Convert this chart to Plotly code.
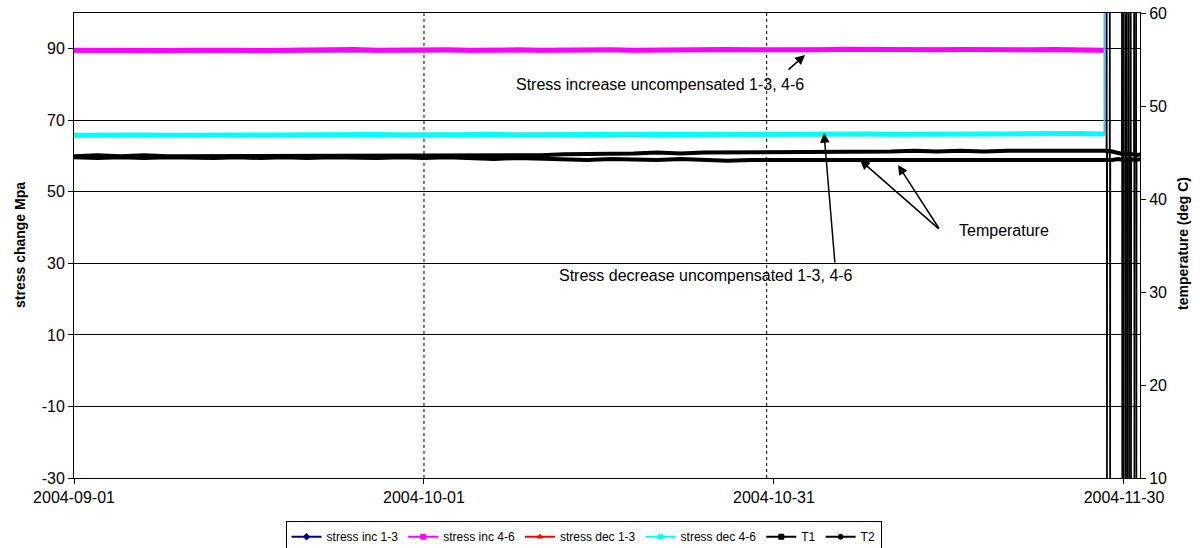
import plotly.graph_objects as go

# ---------------- data ----------------
dates = ["2004-09-01","2004-09-03","2004-09-05","2004-09-07","2004-09-09","2004-09-11","2004-09-13","2004-09-15",
         "2004-09-17","2004-09-19","2004-09-21","2004-09-23","2004-09-25","2004-09-27","2004-09-29",
         "2004-10-01","2004-10-03","2004-10-05","2004-10-07","2004-10-09","2004-10-11","2004-10-13","2004-10-15",
         "2004-10-17","2004-10-19","2004-10-21","2004-10-23","2004-10-25","2004-10-27","2004-10-29","2004-10-31",
         "2004-11-02","2004-11-04","2004-11-06","2004-11-08","2004-11-10","2004-11-12","2004-11-14","2004-11-16",
         "2004-11-18","2004-11-20","2004-11-22","2004-11-24","2004-11-26","2004-11-28 08:00"]

stress_inc_13 = [89.5,89.5,89.6,89.5,89.5,89.6,89.6,89.5,89.5,89.6,89.6,89.5,89.7,89.6,89.6,
                 89.5,89.6,89.6,89.7,89.6,89.6,89.6,89.7,89.6,89.6,89.6,89.7,89.7,89.7,89.6,89.6,
                 89.7,89.7,89.8,89.7,89.7,89.7,89.7,89.7,89.7,89.7,89.7,89.7,89.6,89.6]
stress_inc_46 = [89.6,89.5,89.7,89.6,89.5,89.6,89.7,89.6,89.5,89.6,89.7,89.6,89.8,89.6,89.7,
                 89.6,89.7,89.6,89.8,89.7,89.6,89.7,89.8,89.7,89.6,89.7,89.8,89.7,89.8,89.7,89.6,
                 89.8,89.7,89.9,89.8,89.7,89.8,89.7,89.8,89.7,89.8,89.7,89.8,89.7,89.6]
stress_dec_13 = [65.8,65.8,65.8,65.8,65.8,65.8,65.9,65.8,65.8,65.9,65.9,65.9,65.9,65.9,65.9,
                 65.9,65.9,66.0,65.9,65.9,66.0,66.0,66.0,66.0,66.0,66.0,66.0,66.1,66.0,66.1,66.1,
                 66.1,66.1,66.1,66.2,66.1,66.1,66.2,66.2,66.2,66.2,66.2,66.2,66.2,66.2]
stress_dec_46 = [65.8,65.9,65.8,65.9,65.8,65.9,65.9,65.8,65.9,65.9,66.0,65.9,65.9,66.0,65.9,
                 66.0,65.9,66.0,66.0,65.9,66.0,66.1,66.0,66.0,66.1,66.0,66.1,66.1,66.0,66.1,66.1,
                 66.2,66.1,66.2,66.2,66.1,66.2,66.2,66.3,66.2,66.2,66.3,66.2,66.3,66.2]

t_extra_dates = ["2004-11-29 00:00","2004-11-29 12:00","2004-11-30 00:00","2004-11-30 12:00",
                 "2004-12-01 00:00","2004-12-01 12:00"]
t1 = [44.6,44.7,44.6,44.7,44.6,44.6,44.7,44.6,44.7,44.6,44.7,44.6,44.7,44.7,44.6,
      44.7,44.6,44.7,44.7,44.6,44.7,44.8,44.8,44.9,44.9,45.0,44.9,45.0,45.0,45.0,45.1,
      45.0,45.1,45.1,45.0,45.1,45.2,45.1,45.2,45.1,45.2,45.2,45.3,45.2,45.2,
      45.1,44.9,44.8,44.9,44.7,44.8]
t2 = [44.5,44.4,44.5,44.4,44.5,44.4,44.4,44.5,44.4,44.5,44.4,44.5,44.4,44.4,44.5,
      44.4,44.5,44.4,44.3,44.4,44.3,44.3,44.2,44.3,44.2,44.2,44.3,44.2,44.1,44.2,44.2,
      44.1,44.2,44.1,44.2,44.1,44.2,44.1,44.2,44.1,44.1,44.2,44.1,44.2,44.1,
      44.2,44.3,44.2,44.3,44.2,44.3]

# end-of-record glitches
dec46_jump_dates = ["2004-11-28 08:00","2004-11-28 08:00"]
dec46_jump = [66.2, 130]
late_seg_dates = ["2004-11-30 03:00","2004-11-30 06:00"]
inc46_late = [89.6, 89.6]
dec46_late = [66.1, 66.1]

t1_spike_dates = ["2004-11-28 12:00","2004-11-28 12:30","2004-11-28 13:00","2004-11-28 13:30",
                  "2004-11-29 19:30","2004-11-29 20:00","2004-11-29 20:30","2004-11-29 21:00",
                  "2004-11-30 02:30","2004-11-30 03:00","2004-11-30 03:30","2004-11-30 04:00",
                  "2004-11-30 09:30","2004-11-30 10:00","2004-11-30 10:30","2004-11-30 11:00",
                  "2004-11-30 20:30","2004-11-30 21:00","2004-11-30 21:30","2004-11-30 22:00"]
t1_spike = [45.2,75,-10,45.0, 45.0,75,-10,44.9, 44.9,75,-10,44.8, 44.8,75,-10,44.8, 44.8,75,-10,44.8]
t2_spike_dates = ["2004-11-28 18:30","2004-11-28 19:00","2004-11-28 19:30","2004-11-28 20:00",
                  "2004-11-29 22:30","2004-11-29 23:00","2004-11-29 23:30","2004-11-30 00:00",
                  "2004-11-30 05:30","2004-11-30 06:00","2004-11-30 06:30","2004-11-30 07:00",
                  "2004-11-30 13:30","2004-11-30 14:00","2004-11-30 14:30","2004-11-30 15:00",
                  "2004-12-01 00:30","2004-12-01 01:00","2004-12-01 01:30","2004-12-01 02:00"]
t2_spike = [44.2,75,-10,44.3, 44.3,75,-10,44.2, 44.2,75,-10,44.3, 44.3,75,-10,44.2, 44.2,75,-10,44.3]

x_ticks = ["2004-09-01","2004-10-01","2004-10-31","2004-11-30"]
y_ticks = [-30,-10,10,30,50,70,90]
y_tick_text = ["-30","-10","10","30","50","70","90"]
y2_ticks = [10,20,30,40,50,60]
event_lines = ["2004-10-01","2004-10-30 09:00"]

series_names = ["stress inc 1-3","stress inc 4-6","stress dec 1-3","stress dec 4-6","T1","T2"]
series_colors = ["#000080","#FF00FF","#FF0000","#00FFFF","#000000","#000000"]
series_symbols = ["diamond","square","triangle-up","x","square","circle"]

# ---------------- figure ----------------
W, H = 1200, 548
L, R, T, B = 74, 1140, 13, 478
FONT = "Liberation Sans, Arial, sans-serif"

def px(xp):
    return (xp - L) / (R - L)

def py(yp):
    return (B - yp) / (B - T)

fig = go.Figure()

fig.add_trace(go.Scatter(x=dates, y=stress_inc_13, mode="lines", line=dict(color=series_colors[0], width=4),
                         showlegend=False))
fig.add_trace(go.Scatter(x=dates, y=stress_inc_46, mode="lines", line=dict(color=series_colors[1], width=5),
                         showlegend=False))
fig.add_trace(go.Scatter(x=late_seg_dates, y=inc46_late, mode="lines", line=dict(color=series_colors[1], width=5),
                         showlegend=False))
fig.add_trace(go.Scatter(x=dates, y=stress_dec_13, mode="lines", line=dict(color=series_colors[2], width=4),
                         showlegend=False))
fig.add_trace(go.Scatter(x=dates, y=stress_dec_46, mode="lines", line=dict(color=series_colors[3], width=5),
                         showlegend=False))
fig.add_trace(go.Scatter(x=late_seg_dates, y=dec46_late, mode="lines", line=dict(color=series_colors[3], width=5),
                         showlegend=False))
fig.add_trace(go.Scatter(x=dec46_jump_dates, y=dec46_jump, mode="lines", line=dict(color="#3CC8F0", width=2),
                         showlegend=False))

fig.add_trace(go.Scatter(x=dates + t_extra_dates, y=t1, mode="lines", line=dict(color="#000000", width=4),
                         yaxis="y2", showlegend=False))
fig.add_trace(go.Scatter(x=dates + t_extra_dates, y=t2, mode="lines", line=dict(color="#000000", width=4),
                         yaxis="y2", showlegend=False))
fig.add_trace(go.Scatter(x=t1_spike_dates, y=t1_spike, mode="lines", line=dict(color="#000000", width=1.6),
                         yaxis="y2", showlegend=False))
fig.add_trace(go.Scatter(x=t2_spike_dates, y=t2_spike, mode="lines", line=dict(color="#000000", width=1.6),
                         yaxis="y2", showlegend=False))

# legend entries
for name, col, sym in zip(series_names, series_colors, series_symbols):
    fig.add_trace(go.Scatter(x=[None], y=[None], mode="lines+markers", name=name,
                             line=dict(color=col, width=2),
                             marker=dict(color=col, symbol=sym, size=5,
                                         line=dict(color=col, width=1))))

# dotted event lines
for d in event_lines:
    fig.add_shape(type="line", xref="x", yref="paper", x0=d, x1=d, y0=0, y1=1,
                  line=dict(color="#000000", width=1, dash="dot"), layer="below")

ann_font = dict(family=FONT, size=16, color="#000000")
annotations = [
    dict(text="Stress increase uncompensated 1-3, 4-6", x=px(660), y=py(84), xref="paper", yref="paper",
         xanchor="center", yanchor="middle", showarrow=False, font=ann_font),
    dict(text="", x=px(805), y=py(55), ax=-18, ay=16, xref="paper", yref="paper", showarrow=True,
         arrowhead=2, arrowsize=1.3, arrowwidth=1.5, arrowcolor="#000000"),
    dict(text="Stress decrease uncompensated 1-3, 4-6", x=px(706), y=py(275), xref="paper", yref="paper",
         xanchor="center", yanchor="middle", showarrow=False, font=ann_font),
    dict(text="", x=px(824), y=py(133), ax=11, ay=131, xref="paper", yref="paper", showarrow=True,
         arrowhead=2, arrowsize=1.3, arrowwidth=1.5, arrowcolor="#000000"),
    dict(text="Temperature", x=px(957), y=py(230), xref="paper", yref="paper", xanchor="left",
         yanchor="middle", showarrow=False, font=ann_font),
    dict(text="", x=px(860), y=py(160), ax=80, ay=70, xref="paper", yref="paper", showarrow=True,
         arrowhead=2, arrowsize=1.3, arrowwidth=1.5, arrowcolor="#000000"),
    dict(text="", x=px(898), y=py(165), ax=42, ay=65, xref="paper", yref="paper", showarrow=True,
         arrowhead=2, arrowsize=1.3, arrowwidth=1.5, arrowcolor="#000000"),
    dict(text="<b>stress change Mpa</b>", x=px(20), y=py(245), xref="paper", yref="paper", textangle=-90,
         xanchor="center", yanchor="middle", showarrow=False, font=dict(family=FONT, size=14, color="#000000")),
    dict(text="<b>temperature (deg C)</b>", x=px(1183), y=py(244), xref="paper", yref="paper", textangle=-90,
         xanchor="center", yanchor="middle", showarrow=False, font=dict(family=FONT, size=14, color="#000000")),
]

tick_font = dict(family=FONT, size=16, color="#000000")
fig.update_layout(
    width=W, height=H,
    margin=dict(l=L, r=W - R, t=T, b=H - B, pad=0, autoexpand=False),
    paper_bgcolor="#FFFFFF", plot_bgcolor="#FFFFFF",
    font=dict(family=FONT, color="#000000"),
    xaxis=dict(type="date", range=["2004-09-01", "2004-12-01 09:00"], tickvals=x_ticks, ticktext=x_ticks,
               showgrid=False, zeroline=False, showline=True, linecolor="#000000", linewidth=1, mirror=True,
               ticks="outside", ticklen=5, tickcolor="#000000", tickfont=tick_font, automargin=False),
    yaxis=dict(range=[-30, 100], tickvals=y_ticks, ticktext=y_tick_text, showgrid=True,
               gridcolor="#000000", gridwidth=1,
               zeroline=False, showline=True, linecolor="#000000", linewidth=1,
               ticks="outside", ticklen=5, tickcolor="#000000", tickfont=tick_font, automargin=False),
    yaxis2=dict(range=[10, 60], tickvals=y2_ticks, overlaying="y", side="right", showgrid=False,
                zeroline=False, showline=True, linecolor="#000000", linewidth=1,
                ticks="outside", ticklen=5, tickcolor="#000000", tickfont=tick_font, automargin=False),
    showlegend=True,
    legend=dict(orientation="h", x=0.478, xanchor="center", y=-0.093, yanchor="top",
                bordercolor="#000000", borderwidth=1, bgcolor="#FFFFFF",
                font=dict(family=FONT, size=12, color="#000000"), itemwidth=30,
                tracegroupgap=0),
    annotations=annotations,
)

fig.write_html("out.html", config={"displayModeBar": False},
               post_script="document.body.style.margin='0px';")
